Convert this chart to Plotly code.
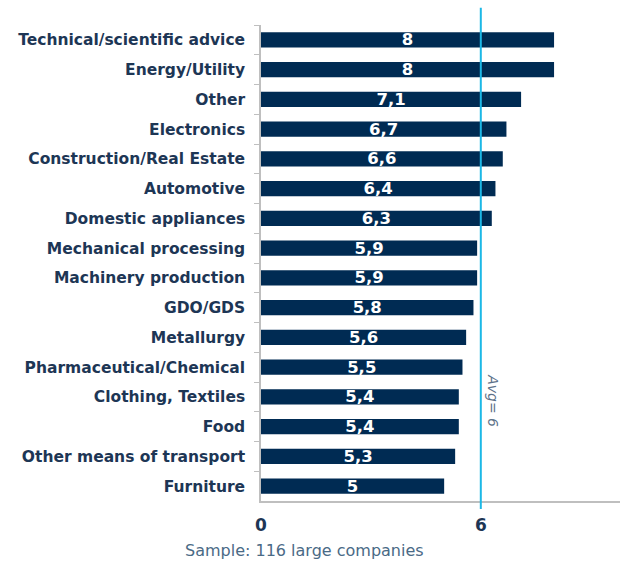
import plotly.graph_objects as go

categories = [
    "Technical/scientific advice", "Energy/Utility", "Other", "Electronics",
    "Construction/Real Estate", "Automotive", "Domestic appliances",
    "Mechanical processing", "Machinery production", "GDO/GDS", "Metallurgy",
    "Pharmaceutical/Chemical", "Clothing, Textiles", "Food",
    "Other means of transport", "Furniture",
]
values = [8, 8, 7.1, 6.7, 6.6, 6.4, 6.3, 5.9, 5.9, 5.8, 5.6, 5.5, 5.4, 5.4, 5.3, 5]
average = 6
x_ticks = [0, 6]

NAVY = "#002b53"
LABEL = "#1d3655"
AXIS = "#bfbfbf"
CYAN = "#1cb8e6"
FONT = "DejaVu Sans"

fig = go.Figure(go.Bar(
    x=values,
    y=categories,
    orientation="h",
    marker=dict(color=NAVY, line=dict(width=0)),
    text=[f"{v:g}".replace(".", ",") for v in values],
    textposition="inside",
    insidetextanchor="middle",
    textangle=0,
    constraintext="none",
    textfont=dict(family=FONT, size=16.5, color="white", weight="bold"),
    cliponaxis=False,
))

# average reference line
fig.add_shape(type="line", xref="x", yref="paper",
              x0=average, x1=average, y0=-0.017, y1=1.036,
              line=dict(color=CYAN, width=2))
fig.add_annotation(x=6.33, xref="x", y=0.21, yref="paper",
                   text=f"Avg= {average}", textangle=90, showarrow=False,
                   xanchor="center", yanchor="middle",
                   font=dict(family=FONT, size=14, color="#5d7189", style="italic"))

fig.add_annotation(x=0.122, xref="paper", y=-0.103, yref="paper",
                   text="Sample: 116 large companies", showarrow=False,
                   xanchor="center", yanchor="middle",
                   font=dict(family=FONT, size=16, color="#4a6a86"))

fig.update_layout(
    width=624, height=564,
    margin=dict(l=261, r=4, t=25, b=63),
    plot_bgcolor="white", paper_bgcolor="white",
    separators=",.",
    bargap=0.48,
    showlegend=False,
    xaxis=dict(range=[0, 9.8], tickvals=x_ticks, showgrid=False, zeroline=False,
               showline=True, linecolor=AXIS, linewidth=1.5,
               ticks="", ticklabelstandoff=8,
               tickfont=dict(family=FONT, size=17, color=LABEL, weight="bold")),
    yaxis=dict(autorange="reversed", showgrid=False, zeroline=False,
               showline=True, linecolor=AXIS, linewidth=1.5,
               ticks="outside", ticklen=5, tickcolor=AXIS, tickson="boundaries",
               ticklabelstandoff=11,
               tickfont=dict(family=FONT, size=15.5, color=LABEL, weight="bold")),
)

fig.write_html("out.html")
